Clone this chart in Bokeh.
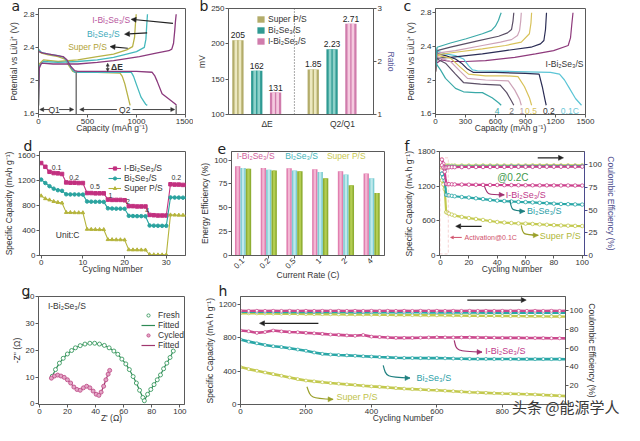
import math
from bokeh.plotting import figure
from bokeh.layouts import row, column
from bokeh.models import (Range1d, LinearAxis, FixedTicker, Label, Arrow, NormalHead, Title,
                          Span, BoxAnnotation, Legend, LegendItem)
from bokeh.core.properties import value
from bokeh.embed import file_html
from bokeh.resources import INLINE

FONT = "Liberation Sans"
AX = "#5a5a5a"
TXT = "#333333"

# ---------------- data ----------------
A_IBS_DIS_X = [0, 50, 150, 250, 290, 330, 370, 400, 700, 1000, 1160, 1185, 1211, 1261, 1327, 1393, 1409]
A_IBS_DIS_Y = [2.35, 2.33, 2.31, 2.29, 2.25, 2.17, 2.12, 2.11, 2.11, 2.11, 2.10, 2.06, 1.99, 1.84, 1.78, 1.72, 1.70]
A_IBS_CH_X = [0, 8, 30, 150, 400, 600, 766, 1030, 1200, 1330, 1360, 1378, 1390, 1398, 1405]
A_IBS_CH_Y = [1.70, 2.15, 2.21, 2.20, 2.20, 2.22, 2.24, 2.29, 2.33, 2.36, 2.38, 2.45, 2.60, 2.72, 2.80]
A_BS_DIS_X = [0, 30, 100, 200, 260, 300, 340, 370, 400, 700, 947, 970, 997, 1046, 1096, 1110]
A_BS_DIS_Y = [2.38, 2.34, 2.32, 2.30, 2.28, 2.22, 2.14, 2.10, 2.10, 2.10, 2.10, 2.05, 1.96, 1.80, 1.71, 1.70]
A_BS_CH_X = [0, 8, 50, 200, 400, 600, 766, 900, 1000, 1080, 1096, 1105, 1112]
A_BS_CH_Y = [1.70, 2.18, 2.23, 2.22, 2.23, 2.25, 2.28, 2.32, 2.35, 2.40, 2.50, 2.68, 2.80]
A_SP_DIS_X = [0, 30, 100, 200, 270, 310, 350, 380, 600, 832, 855, 881, 914, 935]
A_SP_DIS_Y = [2.37, 2.33, 2.31, 2.29, 2.26, 2.18, 2.11, 2.10, 2.10, 2.09, 2.05, 1.96, 1.80, 1.70]
A_SP_CH_X = [0, 8, 50, 200, 400, 600, 766, 900, 960, 980, 990, 997]
A_SP_CH_Y = [1.70, 2.20, 2.25, 2.23, 2.25, 2.29, 2.32, 2.37, 2.41, 2.52, 2.70, 2.80]

B_NAMES = ["Super P/S", "Bi₂Se₃/S", "I-Bi₂Se₃/S"]
B_GROUPS = ["ΔE", "Q2/Q1"]
B_DELTA_E = [205, 162, 131]
B_RATIO = [1.85, 2.23, 2.71]

C_RATES = ["0.1C", "0.2", "0.5", "1", "2", "4"]
C_CH_X = [
    [0, 10, 60, 150, 300, 500, 793, 1000, 1181, 1327, 1350, 1362, 1375],
    [0, 15, 150, 469, 700, 955, 1050, 1084, 1100, 1110],
    [0, 15, 200, 469, 700, 858, 939, 955, 961],
    [0, 15, 200, 469, 650, 760, 820, 841, 852, 858],
    [0, 15, 150, 400, 631, 720, 760, 775, 783],
    [0, 16, 150, 307, 469, 560, 599, 630, 647, 657],
]
C_CH_Y = [
    [2.10, 2.20, 2.24, 2.22, 2.22, 2.23, 2.27, 2.31, 2.35, 2.41, 2.50, 2.65, 2.80],
    [2.10, 2.26, 2.27, 2.31, 2.35, 2.39, 2.43, 2.47, 2.60, 2.80],
    [2.10, 2.30, 2.33, 2.37, 2.41, 2.45, 2.55, 2.68, 2.80],
    [2.10, 2.32, 2.35, 2.41, 2.45, 2.48, 2.53, 2.59, 2.70, 2.80],
    [2.10, 2.35, 2.39, 2.46, 2.52, 2.56, 2.60, 2.70, 2.80],
    [2.15, 2.39, 2.44, 2.49, 2.55, 2.59, 2.64, 2.71, 2.77, 2.80],
]
C_DC_X = [
    [0, 20, 100, 200, 280, 330, 370, 420, 800, 1150, 1240, 1290, 1340, 1400, 1460],
    [0, 30, 100, 200, 260, 320, 380, 600, 900, 1036, 1068, 1094, 1107],
    [0, 30, 150, 250, 330, 500, 700, 825, 890, 939, 961],
    [0, 30, 150, 250, 320, 500, 728, 793, 841, 858],
    [0, 30, 100, 200, 280, 450, 647, 712, 760, 783],
    [0, 20, 50, 100, 200, 280, 400, 469, 566, 631, 657],
]
C_DC_Y = [
    [2.38, 2.34, 2.31, 2.29, 2.25, 2.17, 2.12, 2.11, 2.10, 2.09, 2.07, 2.00, 1.90, 1.78, 1.70],
    [2.34, 2.31, 2.29, 2.25, 2.20, 2.13, 2.09, 2.09, 2.08, 2.07, 1.92, 1.77, 1.70],
    [2.32, 2.29, 2.26, 2.15, 2.07, 2.05, 2.05, 2.04, 1.92, 1.79, 1.70],
    [2.30, 2.27, 2.22, 2.10, 2.02, 2.00, 1.99, 1.88, 1.77, 1.70],
    [2.28, 2.24, 2.20, 2.07, 1.97, 1.95, 1.94, 1.85, 1.75, 1.70],
    [2.22, 2.17, 2.12, 2.02, 1.90, 1.86, 1.85, 1.85, 1.79, 1.73, 1.70],
]

D_IBS = [1480, 1420, 1340, 1320, 1315, 1305, 1170, 1165, 1165, 1160, 1160, 1000, 1000, 995, 995, 995,
         895, 890, 890, 890, 885, 790, 790, 785, 785, 785, 650, 645, 640, 640, 640, 1140, 1135, 1135, 1130, 1130]
D_BS = [1215, 1160, 1110, 1070, 1045, 1035, 980, 978, 978, 976, 975, 865, 862, 860, 860, 858,
        755, 752, 750, 750, 748, 635, 632, 630, 630, 628, 480, 478, 476, 475, 475, 930, 928, 927, 926, 925]
D_SP = [955, 910, 890, 865, 850, 840, 690, 688, 686, 685, 685, 420, 418, 416, 415, 415,
        255, 254, 252, 252, 250, 92, 90, 90, 89, 88, 15, 12, 10, 10, 10, 650, 648, 646, 645, 645]
D_RATE_LABELS = ["0.1", "0.2", "0.5", "1", "2", "4", "0.2"]

E_RATES = ["0.1", "0.2", "0.5", "1", "2", "4"]
E_IBS = [93.5, 91.8, 91.5, 90.5, 88.2, 85.9]
E_BS = [91.8, 89.9, 89.2, 87.6, 84.9, 81.0]
E_SP = [90.8, 89.2, 88.2, 81.0, 73.5, 65.4]

F_CYCLES = [1, 2, 3, 4, 5, 6, 8, 10, 15, 20, 25, 30, 35, 40, 45, 50, 55, 60, 65, 70, 75, 80, 85, 90, 95, 100]
F_IBS_CAP = [1660, 1590, 1450, 1240, 1236, 1234, 1232, 1230, 1228, 1226, 1224, 1222, 1220, 1220, 1218, 1218,
             1216, 1216, 1215, 1214, 1214, 1213, 1212, 1212, 1211, 1210]
F_BS_CAP = [1420, 1370, 1300, 1050, 1045, 1040, 1032, 1025, 1012, 1003, 990, 977, 963, 950, 942, 935,
            928, 924, 918, 912, 905, 897, 892, 888, 884, 881]
F_SP_CAP = [1300, 1230, 1150, 750, 738, 725, 708, 690, 668, 648, 632, 615, 597, 580, 570, 562,
            556, 552, 546, 538, 532, 526, 520, 516, 512, 510]
F_IBS_CE = [99.5, 97.0, 96.5, 97.0, 97.2, 97.3, 97.4, 97.4, 97.5, 97.5, 97.6, 97.6, 97.6, 97.7, 97.7, 97.7,
            97.8, 97.8, 97.8, 97.8, 97.9, 97.9, 97.9, 97.9, 98.0, 98.0]
F_BS_CE = [90.0, 86.0, 95.0, 97.5, 97.8, 97.9, 98.0, 98.0, 98.1, 98.1, 98.1, 98.2, 98.2, 98.2, 98.2, 98.3,
           98.3, 98.3, 98.3, 98.3, 98.4, 98.4, 98.4, 98.4, 98.4, 98.4]
F_SP_CE = [97.0, 98.0, 98.5, 99.0, 99.0, 99.1, 99.1, 99.2, 99.2, 99.2, 99.2, 99.3, 99.3, 99.3, 99.3, 99.3,
           99.3, 99.3, 99.4, 99.4, 99.4, 99.4, 99.4, 99.4, 99.4, 99.4]

G_FRESH_X = [9.1, 11.4, 14.2, 16.9, 19.9, 22.9, 25.6, 29.0, 32.4, 35.9, 39.3, 42.7, 46.2, 49.6, 53.0, 55.8, 58.7,
             61.5, 64.0, 66.7, 69.0, 71.3, 73.6, 74.7, 77.0, 79.3, 81.6, 83.9, 86.2, 88.4, 90.7, 93.0, 95.3]
G_FRESH_Y = [10.3, 12.8, 15.2, 17.0, 18.6, 19.9, 20.9, 21.7, 22.3, 22.6, 22.6, 22.3, 21.8, 20.9, 19.7, 18.5, 16.7,
             14.9, 12.8, 10.2, 7.8, 5.1, 2.4, 1.2, 3.6, 5.4, 7.2, 9.0, 10.8, 13.1, 15.2, 17.3, 19.7]
G_CYC_X = [8.5, 10.7, 13.0, 15.3, 17.6, 19.9, 22.2, 24.5, 26.7, 29.0, 31.3, 33.6, 35.9, 38.2, 40.4, 42.3,
           43.9, 45.7, 47.3, 48.9, 50.0]
G_CYC_Y = [9.6, 10.4, 10.75, 10.4, 9.9, 9.0, 7.8, 6.3, 5.4, 5.1, 6.0, 6.6, 6.0, 4.8, 3.6, 3.2,
           4.4, 6.6, 9.0, 11.1, 12.5]

H_STEP = 25
H_IBS_CAP = [889, 880, 860, 870, 888, 878, 870, 868, 860, 855, 848, 840, 836, 830, 825, 835, 815, 810, 805, 800, 800,
             800, 802, 805, 808, 806, 805, 806, 806, 804, 803, 802, 800, 800, 800, 799, 798, 797, 796, 795, 794]
H_BS_CAP = [780, 755, 735, 715, 700, 690, 675, 660, 645, 625, 608, 600, 594, 590, 585, 580, 575, 570, 566, 562, 559,
            558, 557, 557, 558, 555, 552, 550, 548, 547, 547, 546, 546, 546, 545, 545, 545, 545, 545, 545, 544]
H_SP_CAP = [450, 425, 405, 385, 365, 345, 325, 305, 288, 278, 268, 258, 250, 242, 235, 226, 218, 212, 205, 197, 190,
            185, 180, 175, 171, 165, 160, 154, 148, 144, 140, 136, 132, 129, 126, 123, 120, 115, 110, 105, 100]
H_IBS_CE = [99.6, 99.5, 99.6, 99.5, 99.6, 99.5, 99.6, 99.5, 99.6, 99.5, 99.6, 99.5, 99.6, 99.5, 99.6, 99.5, 99.6,
            99.5, 99.6, 99.5, 99.6, 99.5, 99.6, 99.5, 99.6, 99.5, 99.6, 99.5, 99.6, 99.5, 99.6, 99.5, 99.6, 99.5,
            99.6, 99.5, 99.6, 99.5, 99.6, 99.5, 99.6]
H_BS_CE = [98.6, 98.6, 98.5, 98.5, 98.5, 98.4, 98.4, 98.4, 98.3, 98.3, 98.3, 98.2, 98.2, 98.2, 98.1, 98.1, 98.1,
           98.0, 98.0, 98.0, 97.9, 97.9, 97.9, 97.8, 97.8, 97.8, 97.8, 97.7, 97.7, 97.7, 97.6, 97.6, 97.6, 97.6,
           97.5, 97.5, 97.5, 97.5, 97.4, 97.4, 97.4]
H_SP_CE = [97.0, 96.9, 96.8, 96.7, 96.6, 96.5, 96.4, 96.3, 96.2, 96.1, 96.0, 95.9, 95.8, 95.7, 95.6, 95.6, 95.5,
           95.4, 95.3, 95.2, 95.1, 95.0, 94.9, 94.8, 94.8, 94.7, 94.6, 94.5, 94.4, 94.3, 94.2, 94.2, 94.1, 94.0,
           93.9, 93.8, 93.8, 93.7, 93.6, 93.5, 93.4]


# ---------------- helpers ----------------
def style(ax, color=AX, lab=TXT):
    ax.axis_line_color = color
    ax.major_tick_line_color = color
    ax.minor_tick_line_color = None
    ax.major_tick_out = 3
    ax.major_tick_in = 0
    ax.major_label_text_font = FONT
    ax.major_label_text_font_size = "8px"
    ax.major_label_text_color = lab
    ax.major_label_standoff = 1
    ax.axis_label_text_font = FONT
    ax.axis_label_text_font_size = "8.5px"
    ax.axis_label_text_font_style = "normal"
    ax.axis_label_text_color = lab
    ax.axis_label_standoff = 1


def mk(w, h, xr, yr, r, b):
    p = figure(width=w, height=h, x_range=Range1d(*xr), y_range=Range1d(*yr),
               output_backend="svg", toolbar_location=None,
               min_border_left=0, min_border_right=r, min_border_top=0, min_border_bottom=b)
    p.xgrid.visible = False
    p.ygrid.visible = False
    p.outline_line_color = AX
    for ax in p.xaxis + p.yaxis:
        style(ax)
    return p


def spacer(p, s):
    p.add_layout(Title(text=" ", text_font_size="1px", standoff=s), "left")


def xlab(p, text, s=-12):
    p.add_layout(Title(text=text, align="center", vertical_align="bottom", standoff=s,
                       text_font=FONT, text_font_size="8.5px", text_font_style="normal",
                       text_color=TXT), "below")


def right_axis(p, name, rng, ticks, label, color=AX, lab=TXT):
    p.extra_y_ranges = {name: Range1d(*rng)}
    ax = LinearAxis(y_range_name=name, axis_label=label, ticker=FixedTicker(ticks=ticks))
    style(ax, color, lab)
    p.add_layout(ax, "right")


def letter(p, ch, dx, s):
    p.title.text = ch
    p.title.align = "left"
    p.title.offset = dx
    p.title.standoff = s
    p.title.vertical_align = "bottom"
    p.title.text_font = "DejaVu Sans"
    p.title.text_font_size = "14px"
    p.title.text_font_style = "normal"
    p.title.text_color = "#222222"


def txt(p, x, y, s, color=TXT, size="8.5px", align="left", base="middle", font=FONT, bold=False):
    p.add_layout(Label(x=x, y=y, text=s, text_color=color, text_font=font, text_font_size=size,
                       text_align=align, text_baseline=base,
                       text_font_style="bold" if bold else "normal"))


def arrow(p, x0, y0, x1, y1, color="#222", w=1.2, size=5):
    p.add_layout(Arrow(x_start=x0, y_start=y0, x_end=x1, y_end=y1, line_color=color, line_width=w,
                       end=NormalHead(size=size, line_color=color, fill_color=color, line_width=0.5)))


def seg(p, x0, y0, x1, y1, color="#777", w=1.2):
    p.add_layout(Arrow(x_start=x0, y_start=y0, x_end=x1, y_end=y1, line_color=color, line_width=w,
                       end=None, start=None))


def curved(p, x0, y0, cx, cy, x1, y1, color, tail_dx):
    p.bezier(x0=[x0], y0=[y0], x1=[x1], y1=[y1], cx0=[cx], cy0=[cy], cx1=[cx], cy1=[cy],
             line_color=color, line_width=1.2)
    arrow(p, x1 - tail_dx, y1, x1, y1, color=color, w=1.2, size=5)


def legend(p, items, loc, margin, gw, lw, lh, tstand, size="8.5px"):
    lg = Legend(items=items, location=loc, background_fill_alpha=0, border_line_color=None,
                label_text_font=FONT, label_text_font_size=size, label_text_color=TXT,
                glyph_width=gw, glyph_height=8, label_height=lh, label_width=lw, spacing=0, padding=0,
                margin=margin, label_standoff=3, title=" ", title_text_font_size="1px",
                title_standoff=tstand)
    p.add_layout(lg)


# ---------------- (a) ----------------
pa = mk(193, 137, (0, 1500), (1.59, 2.87), 8, 22)
pa.xaxis.ticker = FixedTicker(ticks=[0, 500, 1000, 1500])
pa.yaxis.ticker = FixedTicker(ticks=[1.6, 2.0, 2.4, 2.8])
xlab(pa, "Capacity (mAh g⁻¹)")
pa.yaxis.axis_label = "Potential vs Li/Li⁺ (V)"
spacer(pa, 3)
A_COL = ["#b7b246", "#45b9bd", "#8b3a7d"]
for (dx, dy, cx, cy), col in zip([(A_SP_DIS_X, A_SP_DIS_Y, A_SP_CH_X, A_SP_CH_Y),
                                  (A_BS_DIS_X, A_BS_DIS_Y, A_BS_CH_X, A_BS_CH_Y),
                                  (A_IBS_DIS_X, A_IBS_DIS_Y, A_IBS_CH_X, A_IBS_CH_Y)], A_COL):
    pa.line(dx, dy, line_color=col, line_width=1.3)
    pa.line(cx, cy, line_color=col, line_width=1.3)
seg(pa, 385, 1.59, 385, 2.11, "#777", 1.5)
seg(pa, 1405, 1.59, 1405, 1.70, "#777", 1.5)
arrow(pa, 110, 1.65, 12, 1.65, "#333", 0.9, size=4)
arrow(pa, 210, 1.65, 360, 1.65, "#333", 0.9, size=4)
txt(pa, 160, 1.65, "Q1", "#333", "8.5px", "center")
arrow(pa, 800, 1.65, 420, 1.65, "#333", 0.9, size=4)
arrow(pa, 960, 1.65, 1390, 1.65, "#333", 0.9, size=4)
txt(pa, 880, 1.65, "Q2", "#333", "8.5px", "center")
arrow(pa, 706, 2.16, 706, 2.11, "#333", 1.0, size=3)
arrow(pa, 706, 2.16, 706, 2.21, "#333", 1.0, size=3)
txt(pa, 740, 2.165, "ΔE", "#333", "8.5px", "left", bold=True)
txt(pa, 935, 2.735, "I-Bi₂Se₃/S", "#b8569e", "8.5px", "right")
txt(pa, 829, 2.56, "Bi₂Se₃/S", "#3aa9ba", "8.5px", "right")
txt(pa, 698, 2.40, "Super P/S", "#b2a235", "8.5px", "right")
arrow(pa, 1372, 2.69, 945, 2.74)
arrow(pa, 1109, 2.575, 878, 2.56)
arrow(pa, 911, 2.39, 730, 2.41)
letter(pa, "a", -27, -10)

# ---------------- (b) ----------------
pb = mk(205, 137, (0, 7.7), (100, 250), 19, 20)
pb.yaxis.ticker = FixedTicker(ticks=[100, 150, 200, 250])
pb.yaxis.axis_label = "mV"
spacer(pb, -2)
right_axis(pb, "ratio", (1, 3), [1, 2, 3], "Ratio", AX, "#5b5b9b")
pb.right[0].major_label_text_color = TXT
grp_ticks = [g * 4 + 2.05 for g in range(len(B_GROUPS))]
pb.xaxis.ticker = FixedTicker(ticks=grp_ticks)
pb.xaxis.major_label_overrides = {t: s for t, s in zip(grp_ticks, B_GROUPS)}
pb.xaxis.major_tick_line_color = None
pb.xaxis.major_label_text_font_size = "8.5px"
B_OUTER = ["#b3ac6a", "#2f9a93", "#d07cac"]
B_INNER = ["#ece8c0", "#8ed2ca", "#f5cadf"]
x_de = [0.5 + i for i in range(3)]
x_q = [4.5 + i for i in range(3)]
b_items = []
for i in range(3):
    r = pb.vbar(x=[x_de[i]], top=[B_DELTA_E[i]], bottom=100, width=0.6, fill_color=B_OUTER[i], line_color=None)
    pb.vbar(x=[x_de[i]], top=[B_DELTA_E[i]], bottom=100, width=0.36, fill_color=B_INNER[i], line_color=None)
    pb.vbar(x=[x_de[i]], top=[B_DELTA_E[i]], bottom=100, width=0.07, fill_color=B_OUTER[i], line_color=None)
    pb.vbar(x=[x_q[i]], top=[B_RATIO[i]], bottom=1, width=0.6, fill_color=B_OUTER[i], line_color=None,
            y_range_name="ratio")
    pb.vbar(x=[x_q[i]], top=[B_RATIO[i]], bottom=1, width=0.36, fill_color=B_INNER[i], line_color=None,
            y_range_name="ratio")
    pb.vbar(x=[x_q[i]], top=[B_RATIO[i]], bottom=1, width=0.07, fill_color=B_OUTER[i], line_color=None,
            y_range_name="ratio")
    b_items.append(LegendItem(label=B_NAMES[i], renderers=[r]))
pb.text(x=x_de, y=B_DELTA_E, text=[str(v) for v in B_DELTA_E], y_offset=-2, text_align="center",
        text_baseline="bottom", text_font=value(FONT), text_font_size="8.5px", text_color="#222")
pb.text(x=x_q, y=B_RATIO, text=["%.2f" % v for v in B_RATIO], y_offset=-2, text_align="center",
        text_baseline="bottom", text_font=value(FONT), text_font_size="8.5px", text_color="#222",
        y_range_name="ratio")
pb.add_layout(Span(location=3.5, dimension="height", line_color="#555", line_dash="1 2", line_width=1))
legend(pb, b_items, "top_right", 1, 9, 104, 11, 3)
letter(pb, "b", -29, -10)

# ---------------- (c) ----------------
pc = mk(226, 137, (0, 1500), (1.59, 2.85), 39, 23)
pc.xaxis.ticker = FixedTicker(ticks=[0, 300, 600, 900, 1200, 1500])
pc.yaxis.ticker = FixedTicker(ticks=[1.6, 2.0, 2.4, 2.8])
xlab(pc, "Capacity (mAh g⁻¹)")
pc.yaxis.axis_label = "Potential vs Li/Li⁺ (V)"
spacer(pc, 2)
C_CH_COL = ["#8e3a7c", "#2b2d55", "#d8c25a", "#cda3b8", "#5b4f66", "#3aa9a8"]
C_DC_COL = ["#5cc5d6", "#2b2d55", "#d8c25a", "#cda3b8", "#5b4f66", "#3aa9a8"]
C_LAB_COL = ["#6cc8d8", "#333333", "#d8c25a", "#b89aa8", "#777777", "#3aa9a8"]
for i in range(len(C_RATES)):
    pc.line(C_CH_X[i], C_CH_Y[i], line_color=C_CH_COL[i], line_width=1.2)
    pc.line(C_DC_X[i], C_DC_Y[i], line_color=C_DC_COL[i], line_width=1.2)
for s, xx, col in zip(C_RATES, [1343, 1133, 955, 864, 761, 615], C_LAB_COL):
    txt(pc, xx, 1.63, s, col, "8.5px", "center")
txt(pc, 1290, 2.19, "I-Bi₂Se₃/S", "#333", "8.5px", "center")
letter(pc, "c", -32, -10)

# ---------------- (d) ----------------
pd = mk(197, 145, (-0.4, 34.6), (0, 1665), 12, 24)
pd.xaxis.ticker = FixedTicker(ticks=[0, 10, 20, 30])
pd.yaxis.ticker = FixedTicker(ticks=[0, 400, 800, 1200, 1600])
xlab(pd, "Cycling Number")
pd.yaxis.axis_label = "Specific Capacity (mAh g⁻¹)"
cyc = list(range(len(D_IBS)))
d_items = []
for vals, col, mark, name in [(D_IBS, "#c2307f", "square", "I-Bi₂Se₃/S"),
                              (D_BS, "#2aa39f", "circle", "Bi₂Se₃/S"),
                              (D_SP, "#b5b43c", "triangle", "Super P/S")]:
    rl = pd.line(cyc, vals, line_color=col, line_width=1.1)
    rs = pd.scatter(cyc, vals, marker=mark, size=3.5, fill_color=col, line_color=col)
    d_items.append(LegendItem(label=name, renderers=[rl, rs]))
legend(pd, d_items, "top_right", 2, 13, 59, 10, 9)
for s, (xx, yy) in zip(D_RATE_LABELS, [(3.7, 1415), (7.9, 1245), (12.9, 1105), (16.6, 965), (20.8, 865),
                                        (25.4, 720), (32.4, 1245)]):
    txt(pd, xx, yy, s, "#333", "7px", "center")
txt(pd, 3.5, 330, "Unit:C", "#333", "8.5px", "left")
letter(pd, "d", -16, -4)

# ---------------- (e) ----------------
pe = mk(199, 145, (-0.45, 5.5), (0, 109), 12, 27)
pe.yaxis.ticker = FixedTicker(ticks=[0, 25, 50, 75, 100])
pe.yaxis.axis_label = "Energy Efficiency (%)"
xlab(pe, "Current Rate (C)")
xi = list(range(len(E_RATES)))
pe.xaxis.ticker = FixedTicker(ticks=xi)
pe.xaxis.major_label_overrides = {i: s for i, s in zip(xi, E_RATES)}
pe.xaxis.major_label_orientation = math.pi / 4
E_OUT = ["#e17fb0", "#7ecdd3", "#8fae33"]
E_IN = ["#f3b7d3", "#bfe9ec", "#b3cd52"]
for k, (vals, co, ci) in enumerate(zip([E_IBS, E_BS, E_SP], E_OUT, E_IN)):
    xs = [i + (k - 1) * 0.21 for i in xi]
    pe.vbar(x=xs, top=vals, width=0.21, fill_color=co, line_color=None)
    pe.vbar(x=xs, top=vals, width=0.09, fill_color=ci, line_color=None)
txt(pe, -0.25, 104, "I-Bi₂Se₃/S", "#d0609c", "8.5px")
txt(pe, 1.64, 104, "Bi₂Se₃/S", "#3fb2b8", "8.5px")
txt(pe, 3.26, 104, "Super P/S", "#c8c850", "8.5px")
letter(pe, "e", -14, -4)

# ---------------- (f) ----------------
pf = mk(228, 145, (-0.7, 101.6), (0, 1800), 40, 23)
pf.xaxis.ticker = FixedTicker(ticks=[0, 20, 40, 60, 80, 100])
pf.yaxis.ticker = FixedTicker(ticks=[0, 600, 1200, 1800])
xlab(pf, "Cycling Number")
pf.yaxis.axis_label = "Specific Capacity (mA h g⁻¹)"
spacer(pf, 1)
right_axis(pf, "ce", (0, 114.7), [0, 25, 50, 75, 100], "Coulombic Efficiency (%)", "#4b4b8c", "#4b4b8c")
pf.right[0].major_label_text_color = TXT
F_COL = ["#cc3f8c", "#2aa7a7", "#c3c94e"]
for cap, ce, col in zip([F_SP_CAP, F_BS_CAP, F_IBS_CAP], [F_SP_CE, F_BS_CE, F_IBS_CE], F_COL[::-1]):
    pf.line(F_CYCLES, cap, line_color=col, line_width=2.2)
    pf.scatter(F_CYCLES, cap, marker="circle", size=3.5, fill_color="white", line_color=col, line_width=0.8)
    pf.line(F_CYCLES, ce, line_color=col, line_width=2.0, y_range_name="ce")
    pf.scatter(F_CYCLES, ce, marker="circle", size=3.5, fill_color="white", line_color=col, line_width=0.8,
               y_range_name="ce")
pf.add_layout(BoxAnnotation(left=-0.3, right=5.5, bottom=27, top=1690, fill_alpha=0, line_color="#e06a6a",
                            line_dash="3 2", line_width=1))
txt(pf, 17, 313, "Activation@0.1C", "#d0506a", "7px")
arrow(pf, 15, 313, 7, 313, "#d0506a", 1.0, size=3)
txt(pf, 40, 1350, "@0.2C", "#3f9a4c", "10px")
txt(pf, 46, 1050, "I-Bi₂Se₃/S", "#c0398a", "9px")
txt(pf, 61, 765, "Bi₂Se₃/S", "#2a9ea6", "9px")
txt(pf, 70, 345, "Super P/S", "#b0b83a", "9px")
curved(pf, 31, 1200, 33, 1050, 45, 1050, "#a03070", 4)
curved(pf, 49, 960, 50, 780, 59.5, 765, "#1f8080", 4)
curved(pf, 57, 520, 58, 360, 69, 350, "#9aa02a", 4)
arrow(pf, 29, 505, 10.7, 505)
arrow(pf, 68.6, 1690, 86.8, 1690)
letter(pf, "f", -35, -4)

# ---------------- (g) ----------------
pg = mk(197, 143, (-0.7, 103.3), (-0.2, 40), 13, 20)
pg.xaxis.ticker = FixedTicker(ticks=[0, 20, 40, 60, 80, 100])
pg.yaxis.ticker = FixedTicker(ticks=[0, 10, 20, 30, 40])
xlab(pg, "Z' (Ω)")
pg.yaxis.axis_label = "-Z'' (Ω)"
spacer(pg, 5)
gl1 = pg.line(G_FRESH_X, G_FRESH_Y, line_color="#2f8a55", line_width=1.2)
gs1 = pg.scatter(G_FRESH_X, G_FRESH_Y, marker="circle", size=4, fill_color="white", line_color="#3a9a60",
                 line_width=0.9)
gl2 = pg.line(G_CYC_X, G_CYC_Y, line_color="#a0386e", line_width=1.2)
gs2 = pg.scatter(G_CYC_X, G_CYC_Y, marker="circle", size=4, fill_color="#e3a6c6", line_color="#c0508a",
                 line_width=0.9)
legend(pg, [LegendItem(label="Fresh", renderers=[gs1]), LegendItem(label="Fitted", renderers=[gl1]),
            LegendItem(label="Cycled", renderers=[gs2]), LegendItem(label="Fitted", renderers=[gl2])],
       "top_right", 0, 14, 26, 10, 13)
txt(pg, 6, 36.3, "I-Bi₂Se₃/S", "#333", "8.5px")
letter(pg, "g", -17, -4)

# ---------------- (h) ----------------
ph = mk(427, 143, (0, 993), (0, 1297), 59, 21)
h_cyc = [i * H_STEP for i in range(len(H_IBS_CAP))]
ph.xaxis.ticker = FixedTicker(ticks=[0, 200, 400, 600, 800, 1000])
ph.yaxis.ticker = FixedTicker(ticks=[0, 400, 800, 1200])
ph.yaxis.axis_label = "Specific Capacity (mA h g⁻¹)"
spacer(ph, 1)
right_axis(ph, "ce", (0, 114.8), [0, 20, 40, 60, 80, 100], "Coulombic Efficiency (%)")
H_COL = ["#cc4a8e", "#2aa7a7", "#c3c94e"]
for cap, ce, col in zip([H_SP_CAP, H_BS_CAP, H_IBS_CAP], [H_SP_CE, H_BS_CE, H_IBS_CE], H_COL[::-1]):
    ph.line(h_cyc, cap, line_color=col, line_width=2.6)
    ph.scatter(h_cyc, cap, marker="circle", size=3, fill_color="white", line_color=col, line_width=0.7)
    ph.line(h_cyc, ce, line_color=col, line_width=2.4, y_range_name="ce")
    ph.scatter(h_cyc, ce, marker="circle", size=3, fill_color="white", line_color=col, line_width=0.7,
               y_range_name="ce")
arrow(ph, 238, 975, 58, 975)
arrow(ph, 693, 1254, 873, 1254)
curved(ph, 653, 770, 660, 640, 738, 630, "#a03070", 14)
curved(ph, 436, 470, 445, 330, 518, 318, "#1f8080", 14)
curved(ph, 203, 213, 215, 75, 283, 62, "#9aa02a", 14)
txt(ph, 748, 640, "I-Bi₂Se₃/S", "#c0398a", "9px")
txt(ph, 538, 315, "Bi₂Se₃/S", "#2a9ea6", "9px")
txt(ph, 293, 95, "Super P/S", "#c0c24a", "9px")
wm = Title(text="头条 @能源学人", align="right", offset=-54, standoff=-24, vertical_align="bottom",
           text_font="Noto Sans CJK SC", text_font_size="15px", text_font_style="normal", text_color="#3a3a3a")
ph.below = [wm] + list(ph.below)
xlab(ph, "Cycling Number")
letter(ph, "h", -22, -4)

layout = column(row(pa, pb, pc), row(pd, pe, pf), row(pg, ph))
open("out.html", "w").write(file_html(layout, INLINE))
